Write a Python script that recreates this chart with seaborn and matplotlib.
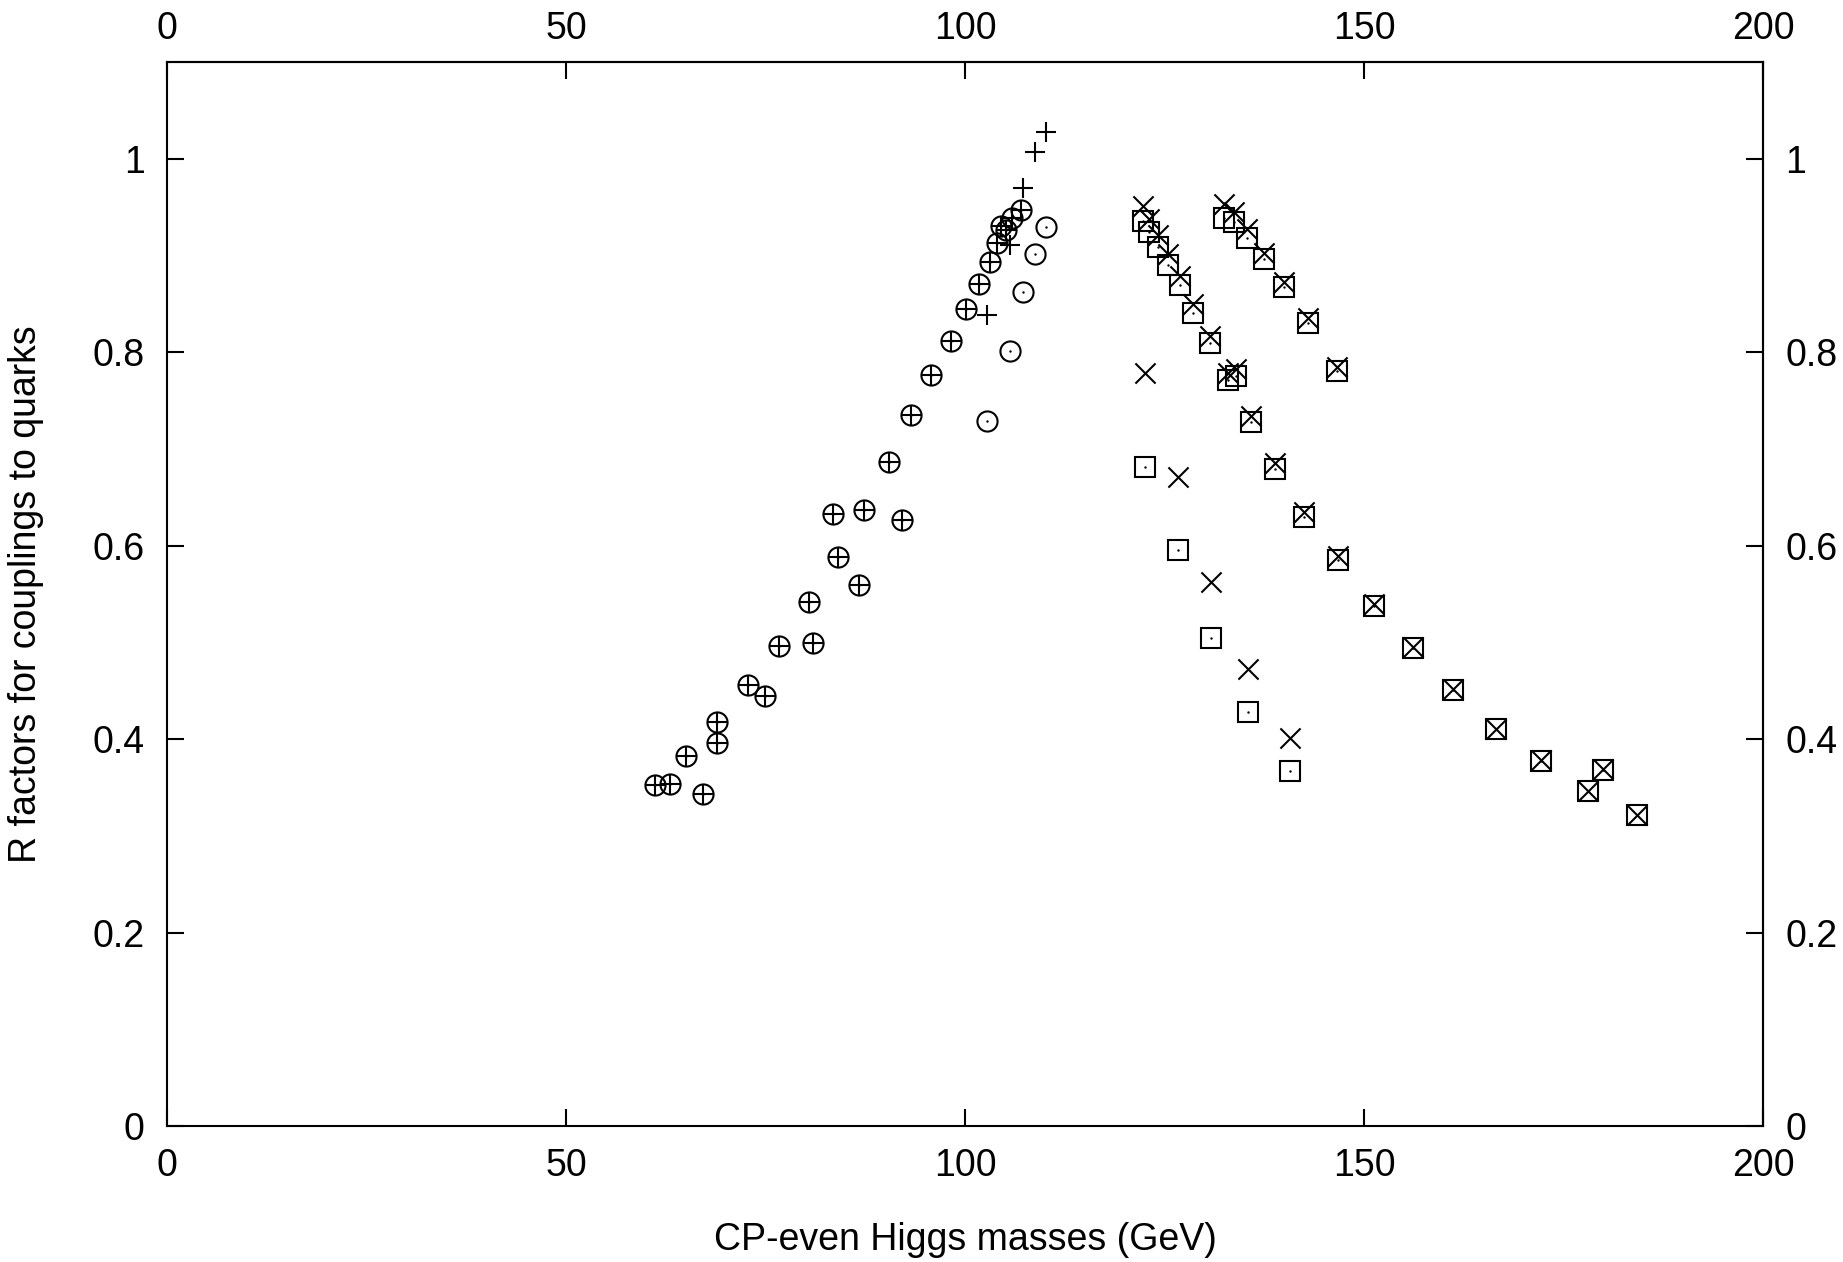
import numpy as np
import pandas as pd
import matplotlib
matplotlib.use("Agg")
import matplotlib.pyplot as plt
import seaborn as sns

# ---- data ----
x_light = [61.1, 63.0, 65.0, 67.2, 68.9, 68.9, 72.8, 74.9, 76.7, 80.4, 81.0,
           83.4, 84.1, 86.7, 87.4, 90.5, 92.1, 93.2, 95.7, 98.2, 100.1, 101.8,
           103.1, 104.0, 104.5, 105.1, 105.9, 107.0,
           102.7, 105.6, 107.3, 108.8, 110.1]
plus_y = [0.353, 0.354, 0.383, 0.343, 0.418, 0.396, 0.456, 0.445, 0.496, 0.542, 0.499,
          0.633, 0.588, 0.559, 0.637, 0.686, 0.626, 0.735, 0.776, 0.812, 0.845, 0.871,
          0.893, 0.913, 0.930, 0.926, 0.939, 0.947,
          0.838, 0.911, 0.970, 1.007, 1.028]
circle_y = [0.353, 0.354, 0.383, 0.343, 0.418, 0.396, 0.456, 0.445, 0.496, 0.542, 0.499,
            0.633, 0.588, 0.559, 0.637, 0.686, 0.626, 0.735, 0.776, 0.812, 0.845, 0.871,
            0.893, 0.913, 0.930, 0.926, 0.939, 0.947,
            0.729, 0.801, 0.862, 0.902, 0.929]

x_heavy = [122.3, 123.1, 124.2, 125.4, 126.9, 128.6, 130.7, 133.0, 134.0, 135.8,
           138.9, 142.5, 146.8,
           132.4, 133.7, 135.3, 137.5, 140.0, 143.0, 146.6,
           151.2, 156.1, 161.2, 166.5, 172.2, 178.1, 180.0, 184.2,
           122.6, 126.7, 130.8, 135.5, 140.7]
cross_y = [0.951, 0.938, 0.921, 0.902, 0.879, 0.850, 0.817, 0.778, 0.783, 0.734,
           0.685, 0.635, 0.589,
           0.953, 0.945, 0.927, 0.903, 0.873, 0.835, 0.785,
           0.540, 0.495, 0.452, 0.410, 0.378, 0.346, 0.369, 0.322,
           0.778, 0.671, 0.562, 0.472, 0.401]
square_y = [0.936, 0.924, 0.909, 0.890, 0.869, 0.841, 0.809, 0.771, 0.775, 0.728,
            0.679, 0.630, 0.585,
            0.939, 0.935, 0.918, 0.896, 0.867, 0.830, 0.781,
            0.538, 0.494, 0.451, 0.410, 0.377, 0.346, 0.368, 0.322,
            0.681, 0.595, 0.504, 0.428, 0.367]

x_ticks = [0, 50, 100, 150, 200]
y_ticks = [0, 0.2, 0.4, 0.6, 0.8, 1.0]
y_tick_labels = ["0", "0.2", "0.4", "0.6", "0.8", "1"]

df_light = pd.DataFrame({"m": x_light, "plus": plus_y, "circ": circle_y})
df_heavy = pd.DataFrame({"m": x_heavy, "cross": cross_y, "sq": square_y})

# ---- style ----
sns.set_style("white")
plt.rcParams["font.family"] = ["Liberation Sans", "DejaVu Sans"]
plt.rcParams["font.size"] = 27
plt.rcParams["text.color"] = "black"
plt.rcParams["axes.labelcolor"] = "black"
plt.rcParams["xtick.color"] = "black"
plt.rcParams["ytick.color"] = "black"
plt.rcParams["axes.edgecolor"] = "black"

fig = plt.figure(figsize=(18.43, 12.62), dpi=100)
ax = fig.add_axes([167 / 1843, 1 - 1126 / 1262, 1596 / 1843, 1064 / 1262])

ms = 14.5
lw = 1.5

sns.scatterplot(data=df_light, x="m", y="plus", marker="+", s=ms**2,
                color="black", linewidth=lw, ax=ax, legend=False)
sns.lineplot(data=df_light, x="m", y="circ", estimator=None, sort=False,
             linestyle="", marker="o", markersize=ms, markerfacecolor="none",
             markeredgecolor="black", markeredgewidth=lw, color="black",
             ax=ax, legend=False)
sns.scatterplot(data=df_light, x="m", y="circ", marker="o", s=3,
                color="black", linewidth=0, ax=ax, legend=False)

sns.scatterplot(data=df_heavy, x="m", y="cross", marker="x", s=ms**2,
                color="black", linewidth=lw, ax=ax, legend=False)
sns.lineplot(data=df_heavy, x="m", y="sq", estimator=None, sort=False,
             linestyle="", marker="s", markersize=ms, markerfacecolor="none",
             markeredgecolor="black", markeredgewidth=lw, color="black",
             ax=ax, legend=False)
sns.scatterplot(data=df_heavy, x="m", y="sq", marker="o", s=3,
                color="black", linewidth=0, ax=ax, legend=False)

ax.set_xlim(0, 200)
ax.set_ylim(0, 1.1)
ax.set_xticks(x_ticks)
ax.set_xticklabels([str(t) for t in x_ticks])
ax.set_yticks(y_ticks)
ax.set_yticklabels(y_tick_labels)

for sp in ax.spines.values():
    sp.set_visible(True)
    sp.set_linewidth(1.5)
    sp.set_color("black")

tick_kw = dict(direction="in", length=12, width=1.5, color="black",
               labelcolor="black", labelsize=27)
ax.tick_params(axis="both", which="major", pad=16,
               top=False, right=False, bottom=True, left=True,
               labeltop=False, labelright=False, labelbottom=True, labelleft=True,
               **tick_kw)

# top and right axes with their own ticks and labels
secx = ax.secondary_xaxis("top")
secx.set_xticks(x_ticks)
secx.set_xticklabels([str(t) for t in x_ticks])
secx.tick_params(axis="x", pad=11, **tick_kw)
secx.spines["top"].set_linewidth(1.5)
secx.spines["top"].set_color("black")

secy = ax.secondary_yaxis("right")
secy.set_yticks(y_ticks)
secy.set_yticklabels(y_tick_labels)
secy.tick_params(axis="y", pad=16, **tick_kw)
secy.spines["right"].set_linewidth(1.5)
secy.spines["right"].set_color("black")

ax.set_xlabel("CP-even Higgs masses (GeV)", fontsize=27, color="black")
ax.set_ylabel("R factors for couplings to quarks", fontsize=27, color="black")
ax.xaxis.set_label_coords(0.5, -0.090)
ax.yaxis.set_label_coords(-0.077, 0.5)

fig.savefig("out.png", dpi=100, facecolor="white")
